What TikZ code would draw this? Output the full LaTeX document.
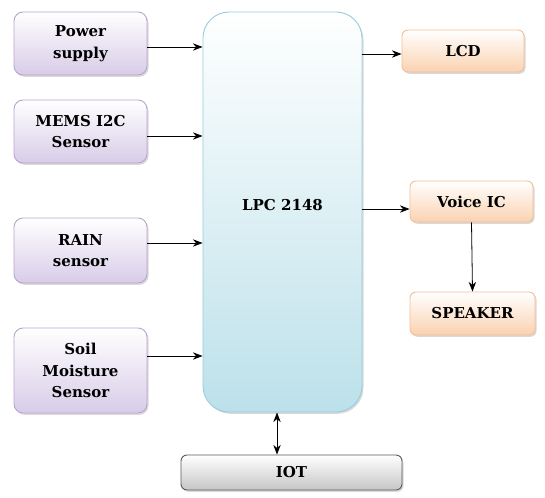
\documentclass[tikz,border=0pt]{standalone}
\usepackage{fontspec}
\setmainfont{DejaVu Serif}
\usepackage{tikz}
\usetikzlibrary{arrows.meta, positioning, shadows}
\definecolor{lavline}{RGB}{185,165,205}
\definecolor{lavfill}{RGB}{216,204,232}
\definecolor{cyanline}{RGB}{150,205,222}
\definecolor{cyanfill}{RGB}{188,225,234}
\definecolor{peachline}{RGB}{245,190,150}
\definecolor{peachfill}{RGB}{250,210,176}
\tikzstyle{block} = [rectangle, draw, rounded corners=9pt, line width=0.9pt,
  align=center, font=\bfseries\fontsize{15}{21.5}\selectfont,
  drop shadow={shadow xshift=1.5pt, shadow yshift=-1.8pt, opacity=0.3}]
\tikzstyle{inblock} = [block, draw=lavline, top color=white, bottom color=lavfill,
  minimum width=133pt]
\tikzstyle{outblock} = [block, draw=peachline, top color=white, bottom color=peachfill,
  rounded corners=6pt]
\tikzstyle{arrow} = [line width=0.8pt, -{Stealth[length=3.4mm, width=2.6mm]}]

\begin{document}
\begin{tikzpicture}[x=1pt, y=-1pt]
    \useasboundingbox (0,0) rectangle (545,497);
    % controller
    \node[block, draw=cyanline, top color=white, bottom color=cyanfill,
      rounded corners=26pt, minimum width=159pt, minimum height=400pt] (lpc) at (282.5,212) {};
    \node at (282.5,205) [font=\bfseries\fontsize{15}{21.5}\selectfont] {LPC 2148};
    % inputs
    \node[inblock, minimum height=63pt] (power) at (80.5,43.5) {Power\\ supply};
    \node[inblock, minimum height=63pt] (mems) at (80.5,131.5) {MEMS I2C\\ Sensor};
    \node[inblock, minimum height=65pt] (rain) at (80.5,250.5) {RAIN\\ sensor};
    \node[inblock, minimum height=85pt] (soil) at (80.5,370.5) {Soil\\ Moisture\\ Sensor};
    % outputs
    \node[outblock, minimum width=122pt, minimum height=42pt] (lcd) at (463,51) {LCD};
    \node[outblock, minimum width=123pt, minimum height=41pt] (voice) at (471.5,201.5) {Voice IC};
    \node[outblock, minimum width=125pt, minimum height=43pt] (speaker) at (472.5,313.5) {SPEAKER};
    \node[block, draw=gray!70!black, top color=white, bottom color=gray!45,
      rounded corners=6pt, minimum width=221pt, minimum height=35pt] (iot) at (291.5,472.5) {IOT};

    \draw[arrow] ([yshift=-3.5pt]power.east) -- ([yshift=-3.5pt]lpc.west |- power.east);
    \draw[arrow] ([yshift=-4.5pt]mems.east) -- ([yshift=-4.5pt]lpc.west |- mems.east);
    \draw[arrow] ([yshift=7.5pt]rain.east) -- ([yshift=7.5pt]lpc.west |- rain.east);
    \draw[arrow] ([yshift=14.5pt]soil.east) -- ([yshift=14.5pt]lpc.west |- soil.east);
    \draw[arrow] ([yshift=-3pt]lpc.east |- lcd.west) -- ([yshift=-3pt]lcd.west);
    \draw[arrow] ([yshift=-7.5pt]lpc.east |- voice.west) -- ([yshift=-7.5pt]voice.west);
    \draw[arrow] (voice.south) -- (speaker.north);
    \draw[line width=0.8pt, {Stealth[length=3.4mm, width=2.6mm]}-{Stealth[length=3.4mm, width=2.6mm]}]
      ([xshift=-5.5pt]lpc.south) -- ([xshift=-5.5pt]lpc.south |- iot.north);
\end{tikzpicture}
\end{document}
